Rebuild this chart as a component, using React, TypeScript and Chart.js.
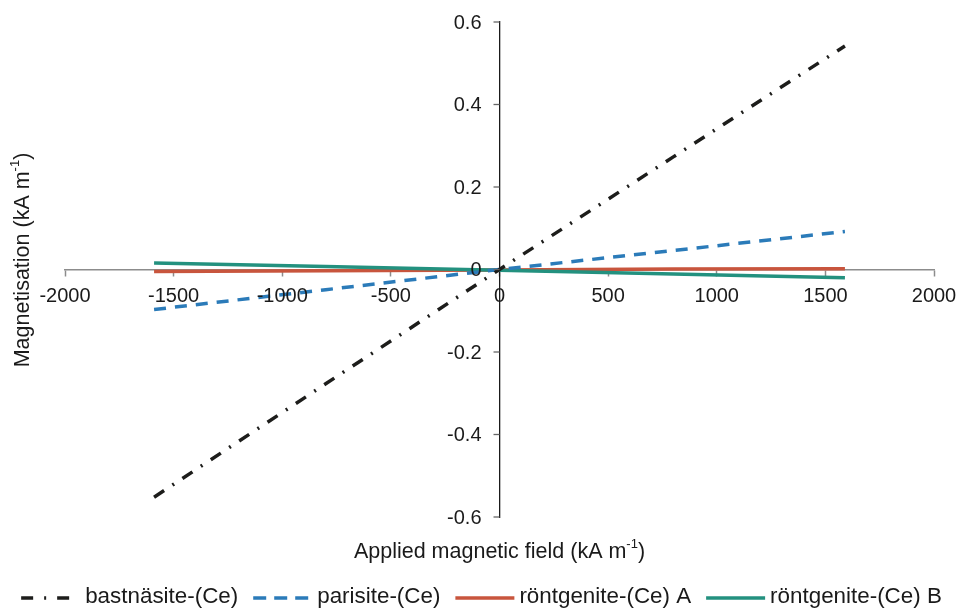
import React, { useEffect, useRef } from "react";
import { Chart, registerables } from "chart.js";

Chart.register(...registerables);

// ---- data ----
const FIELD = [-1590, -800, 0, 800, 1590];
const BASTNASITE = [-0.552, -0.277, 0, 0.273, 0.542];
const PARISITE = [-0.097, -0.049, 0, 0.046, 0.092];
const RONTGENITE_A = [-0.005, -0.003, -0.001, 0.001, 0.002];
const RONTGENITE_B = [0.016, 0.007, -0.002, -0.011, -0.02];

const SERIES_NAMES = ["bastnäsite-(Ce)", "parisite-(Ce)", "röntgenite-(Ce) A", "röntgenite-(Ce) B"];
const SERIES_COLORS = ["#1d1d1b", "#2b7bb9", "#c8553d", "#23917f"];
const SERIES_DASH: number[][] = [[12, 10, 2, 10], [12, 9], [], []];
const LEGEND_DASH: number[][] = [[12, 11, 2, 11], [13, 8], [], []];

const X_MIN = -2000;
const X_MAX = 2000;
const X_STEP = 500;
const Y_MIN = -0.6;
const Y_MAX = 0.6;
const Y_STEP = 0.2;

const X_TITLE = [{ t: "Applied magnetic field (kA m" }, { t: "-1", sup: true }, { t: ")" }];
const Y_TITLE = [{ t: "Magnetisation (kA m" }, { t: "-1", sup: true }, { t: ")" }];

const FONT = "'Liberation Sans', Arial, Helvetica, sans-serif";
const TEXT = "#1a1a1a";

type Part = { t: string; sup?: boolean };

function drawRich(ctx: CanvasRenderingContext2D, parts: Part[], size: number, cx: number, cy: number) {
  const supSize = Math.round(size * 0.62);
  let total = 0;
  const widths = parts.map((p) => {
    ctx.font = `${p.sup ? supSize : size}px ${FONT}`;
    const w = ctx.measureText(p.t).width;
    total += w;
    return w;
  });
  let x = cx - total / 2;
  ctx.textAlign = "left";
  ctx.textBaseline = "middle";
  parts.forEach((p, i) => {
    ctx.font = `${p.sup ? supSize : size}px ${FONT}`;
    ctx.fillText(p.t, x, p.sup ? cy - size * 0.33 : cy);
    x += widths[i];
  });
}

const fmtY = (v: number) => String(Number(Number(v).toFixed(1)));
const fmtX = (v: number) => String(Math.round(v));

const overlayPlugin = {
  id: "overlay",
  afterDraw(chart: any) {
    const ctx: CanvasRenderingContext2D = chart.ctx;
    const area = chart.chartArea;
    const xs = chart.scales.x;
    const ys = chart.scales.y;
    ctx.save();

    // y axis tick marks and labels (left of the vertical axis at x = 0)
    const x0 = xs.getPixelForValue(0);
    ys.ticks.forEach((tk: any) => {
      const py = ys.getPixelForValue(tk.value);
      ctx.strokeStyle = "#666666";
      ctx.lineWidth = 1.3;
      ctx.beginPath();
      ctx.moveTo(x0 - 6, py);
      ctx.lineTo(x0, py);
      ctx.stroke();
      ctx.fillStyle = TEXT;
      ctx.font = `20px ${FONT}`;
      ctx.textAlign = "right";
      ctx.textBaseline = "middle";
      ctx.fillText(fmtY(tk.value), x0 - 18, py + 1);
    });

    // x axis tick labels (below the horizontal axis at y = 0)
    const y0 = ys.getPixelForValue(0);
    xs.ticks.forEach((tk: any) => {
      const px = xs.getPixelForValue(tk.value);
      ctx.fillStyle = TEXT;
      ctx.font = `20px ${FONT}`;
      ctx.textAlign = "center";
      ctx.textBaseline = "middle";
      ctx.fillText(fmtX(tk.value), px, y0 + 27);
    });

    ctx.fillStyle = TEXT;
    // x title
    drawRich(ctx, X_TITLE, 21.5, (area.left + area.right) / 2, 552);
    // y title
    ctx.save();
    ctx.translate(23, 260);
    ctx.rotate(-Math.PI / 2);
    drawRich(ctx, Y_TITLE, 21.5, 0, 0);
    ctx.restore();

    // legend
    const lineW = 59;
    const gap = 5;
    const itemGap = 15;
    const lf = 22.4;
    ctx.font = `${lf}px ${FONT}`;
    const tw = SERIES_NAMES.map((n) => ctx.measureText(n).width);
    const total = tw.reduce((a, b) => a + b, 0) + SERIES_NAMES.length * (lineW + gap) + (SERIES_NAMES.length - 1) * itemGap;
    let x = 481.5 - total / 2;
    const y = 598;
    SERIES_NAMES.forEach((name, i) => {
      ctx.save();
      ctx.strokeStyle = SERIES_COLORS[i];
      ctx.lineWidth = 3.5;
      ctx.lineCap = "butt";
      ctx.setLineDash(LEGEND_DASH[i]);
      ctx.beginPath();
      ctx.moveTo(x, y);
      ctx.lineTo(x + lineW, y);
      ctx.stroke();
      ctx.restore();
      x += lineW + gap;
      ctx.fillStyle = TEXT;
      ctx.font = `${lf}px ${FONT}`;
      ctx.textAlign = "left";
      ctx.textBaseline = "middle";
      ctx.fillText(name, x, y - 1);
      x += tw[i] + itemGap;
    });
    ctx.restore();
  },
};

const SERIES_VALUES = [BASTNASITE, PARISITE, RONTGENITE_A, RONTGENITE_B];
const DRAW_ORDER = [1, 2, 4, 3];

export default function App() {
  const ref = useRef<HTMLCanvasElement>(null);
  useEffect(() => {
    document.body.style.margin = "0";
    if (!ref.current) return;
    const chart = new Chart(ref.current, {
      type: "line",
      data: {
        datasets: SERIES_NAMES.map((name, i) => ({
          label: name,
          data: FIELD.map((x, j) => ({ x, y: SERIES_VALUES[i][j] })),
          borderColor: SERIES_COLORS[i],
          backgroundColor: SERIES_COLORS[i],
          borderWidth: 3.5,
          borderDash: SERIES_DASH[i],
          borderCapStyle: "butt",
          pointRadius: 0,
          tension: 0,
          fill: false,
          order: DRAW_ORDER[i],
        })),
      },
      options: {
        animation: false,
        responsive: true,
        maintainAspectRatio: false,
        layout: { padding: { left: 65, right: 25, top: 22, bottom: 92 } },
        plugins: { legend: { display: false }, tooltip: { enabled: false }, title: { display: false } },
        scales: {
          x: {
            type: "linear",
            position: { y: 0 } as any,
            min: X_MIN,
            max: X_MAX,
            ticks: {
              stepSize: X_STEP,
              display: false,
              autoSkip: false,
              callback: (v: any) => fmtX(v),
            },
            grid: { display: true, drawOnChartArea: false, drawTicks: true, tickLength: 6, tickColor: "#8c8c8c", tickWidth: 1.5 },
            border: { display: true, color: "#8c8c8c", width: 1.5 },
          },
          y: {
            type: "linear",
            position: { x: 0 } as any,
            min: Y_MIN,
            max: Y_MAX,
            ticks: {
              stepSize: Y_STEP,
              display: false,
              callback: (v: any) => fmtY(v),
            },
            grid: { display: false, drawOnChartArea: false, drawTicks: false },
            border: { display: true, color: "#1a1a1a", width: 1.3 },
          },
        },
      },
      plugins: [overlayPlugin],
    } as any);
    return () => chart.destroy();
  }, []);
  return (
    <div style={{ width: 959, height: 609, position: "relative", background: "#fff" }}>
      <canvas ref={ref} />
    </div>
  );
}
